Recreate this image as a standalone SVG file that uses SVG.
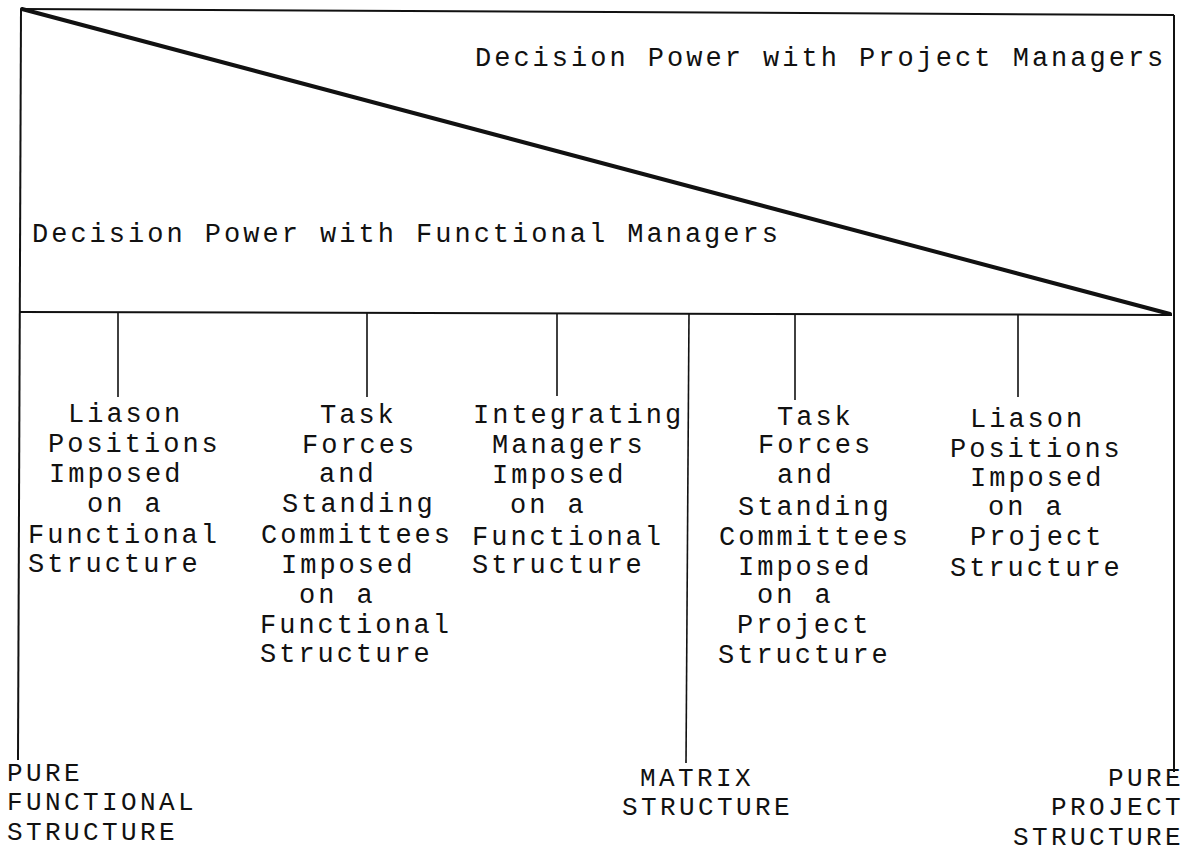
<svg xmlns="http://www.w3.org/2000/svg" width="1186" height="853" viewBox="0 0 1186 853">
<style>
.t{font-family:"Liberation Mono","Courier New",monospace;font-size:27px;letter-spacing:3px;fill:#111}
.b{font-family:"Liberation Mono","Courier New",monospace;font-size:26px;letter-spacing:3.4px;fill:#111}
.frame{stroke:#111;stroke-width:2;fill:none}
.diag{stroke:#111;stroke-width:4;fill:none;stroke-linecap:round}
.tick{stroke:#111;stroke-width:1.6;fill:none}
</style>
<rect width="1186" height="853" fill="#fff"/>
<g id="connectors">
<line class="frame" x1="22" y1="9" x2="1174" y2="15"/>
<line class="frame" x1="21" y1="9" x2="18" y2="760"/>
<line class="frame" x1="1174" y1="15" x2="1174" y2="772"/>
<line class="frame" x1="19" y1="312" x2="1172" y2="315"/>
<line class="diag" x1="22" y1="9" x2="1170" y2="314"/>
<line class="tick" x1="118" y1="312" x2="118" y2="397"/>
<line class="tick" x1="367" y1="313" x2="367" y2="397"/>
<line class="tick" x1="557" y1="313" x2="557" y2="396"/>
<line class="tick" x1="689" y1="313" x2="686" y2="763"/>
<line class="tick" x1="795" y1="314" x2="795" y2="400"/>
<line class="tick" x1="1018" y1="314" x2="1018" y2="397"/>
</g>
<g id="label-project-managers"><text class="t" x="475" y="66">Decision Power with Project Managers</text></g>
<g id="label-functional-managers"><text class="t" x="32" y="242">Decision Power with Functional Managers</text></g>
<g id="node-liason-functional">
<text class="t" x="68" y="422">Liason</text>
<text class="t" x="48" y="452">Positions</text>
<text class="t" x="49" y="482">Imposed</text>
<text class="t" x="87" y="512">on a</text>
<text class="t" x="28" y="543">Functional</text>
<text class="t" x="28" y="572">Structure</text>
</g>
<g id="node-task-functional">
<text class="t" x="320" y="423">Task</text>
<text class="t" x="302" y="453">Forces</text>
<text class="t" x="319" y="482">and</text>
<text class="t" x="282" y="512">Standing</text>
<text class="t" x="261" y="543">Committees</text>
<text class="t" x="281" y="573">Imposed</text>
<text class="t" x="299" y="603">on a</text>
<text class="t" x="260" y="633">Functional</text>
<text class="t" x="260" y="662">Structure</text>
</g>
<g id="node-integrating">
<text class="t" x="473" y="423">Integrating</text>
<text class="t" x="492" y="453">Managers</text>
<text class="t" x="492" y="483">Imposed</text>
<text class="t" x="510" y="513">on a</text>
<text class="t" x="472" y="545">Functional</text>
<text class="t" x="472" y="573">Structure</text>
</g>
<g id="node-task-project">
<text class="t" x="777" y="425">Task</text>
<text class="t" x="758" y="453">Forces</text>
<text class="t" x="777" y="483">and</text>
<text class="t" x="738" y="515">Standing</text>
<text class="t" x="719" y="545">Committees</text>
<text class="t" x="738" y="575">Imposed</text>
<text class="t" x="757" y="603">on a</text>
<text class="t" x="737" y="633">Project</text>
<text class="t" x="718" y="663">Structure</text>
</g>
<g id="node-liason-project">
<text class="t" x="970" y="427">Liason</text>
<text class="t" x="950" y="457">Positions</text>
<text class="t" x="970" y="486">Imposed</text>
<text class="t" x="988" y="515">on a</text>
<text class="t" x="970" y="545">Project</text>
<text class="t" x="950" y="576">Structure</text>
</g>
<g id="node-pure-functional">
<text class="b" x="7" y="781">PURE</text>
<text class="b" x="7" y="810">FUNCTIONAL</text>
<text class="b" x="7" y="840">STRUCTURE</text>
</g>
<g id="node-matrix">
<text class="b" x="640" y="786">MATRIX</text>
<text class="b" x="622" y="815">STRUCTURE</text>
</g>
<g id="node-pure-project">
<text class="b" x="1184" y="786" text-anchor="end">PURE</text>
<text class="b" x="1184" y="815" text-anchor="end">PROJECT</text>
<text class="b" x="1184" y="845" text-anchor="end">STRUCTURE</text>
</g>
</svg>
